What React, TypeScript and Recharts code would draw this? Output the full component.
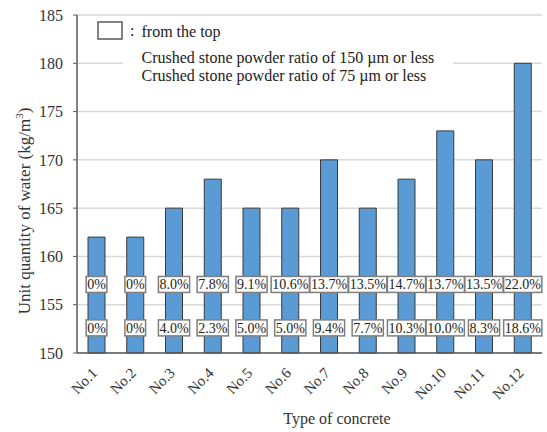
import { Bar, BarChart, CartesianGrid, LabelList, XAxis, YAxis } from "recharts";

const categories = ["No.1", "No.2", "No.3", "No.4", "No.5", "No.6", "No.7", "No.8", "No.9", "No.10", "No.11", "No.12"];
const water = [162, 162, 165, 168, 165, 165, 170, 165, 168, 173, 170, 180];
const ratio150 = ["0%", "0%", "8.0%", "7.8%", "9.1%", "10.6%", "13.7%", "13.5%", "14.7%", "13.7%", "13.5%", "22.0%"];
const ratio75 = ["0%", "0%", "4.0%", "2.3%", "5.0%", "5.0%", "9.4%", "7.7%", "10.3%", "10.0%", "8.3%", "18.6%"];
const yTicks = [150, 155, 160, 165, 170, 175, 180, 185];

const legendLines = [
    "from the top",
    "Crushed stone powder ratio of 150 \u00b5m or less",
    "Crushed stone powder ratio of 75 \u00b5m or less",
];

const data = categories.map((name, i) => ({
    name,
    water: water[i],
    r150: ratio150[i],
    r75: ratio75[i],
}));

const SERIF = "'Liberation Serif', 'Times New Roman', serif";
const Y_MIN = 150;

// rough Times widths at 14px
const textWidth = (s: string) => {
    let w = 0;
    for (const ch of s) {
        if (ch === ".") w += 3.5;
        else if (ch === "%") w += 11.7;
        else w += 7;
    }
    return w;
};

const boxedLabel = (rowValue: number) => (props: any) => {
    const { x, y, width, height, value, index } = props;
    const v = water[index];
    const pxPerUnit = height / (v - Y_MIN);
    const cy = y + height - (rowValue - Y_MIN) * pxPerUnit;
    const cx = x + width / 2;
    const w = textWidth(String(value)) + 2;
    return (
        <g>
            <rect x={cx - w / 2} y={cy - 8} width={w} height={16} fill="#fff" stroke="#7f7f7f" strokeWidth={1.5} />
            <text x={cx} y={cy + 5} textAnchor="middle" fontSize={14} fontFamily={SERIF} fill="#222">
                {value}
            </text>
        </g>
    );
};

const XTick = (props: any) => {
    const { x, y, payload } = props;
    return (
        <text
            x={x + 2}
            y={y + 21}
            transform={`rotate(-45 ${x + 2} ${y + 21})`}
            textAnchor="end"
            fontSize={15}
            fontFamily={SERIF}
            fill="#333"
        >
            {payload.value}
        </text>
    );
};

export default function App() {
    return (
        <div style={{ position: "absolute", left: 0, top: 0 }}>
            <BarChart
                width={547}
                height={432}
                data={data}
                margin={{ top: 15, right: 5, left: 17, bottom: 0 }}
            >
                <CartesianGrid vertical={false} stroke="#d9d9d9" strokeWidth={1.5} />
                <XAxis
                    dataKey="name"
                    height={79}
                    tickLine={false}
                    tickSize={0}
                    tickMargin={0}
                    interval={0}
                    tick={<XTick />}
                    axisLine={{ stroke: "#595959", strokeWidth: 1.5 }}
                />
                <XAxis
                    xAxisId="top"
                    dataKey="name"
                    orientation="top"
                    height={0}
                    tick={false}
                    tickLine={false}
                    axisLine={{ stroke: "#595959", strokeWidth: 1.5 }}
                />
                <YAxis
                    domain={[150, 185]}
                    ticks={yTicks}
                    width={60}
                    tickSize={4}
                    tickMargin={10}
                    tickLine={{ stroke: "#595959" }}
                    axisLine={{ stroke: "#595959", strokeWidth: 1.5 }}
                    tick={{ fontSize: 16, fontFamily: SERIF, fill: "#333" }}
                    interval={0}
                />
                <YAxis
                    yAxisId="right"
                    orientation="right"
                    domain={[150, 185]}
                    width={0}
                    tick={false}
                    tickLine={false}
                    axisLine={{ stroke: "#8a8a8a", strokeWidth: 1.5 }}
                />
                <Bar
                    dataKey="water"
                    barSize={17}
                    fill="#5b9bd5"
                    stroke="#3a3a3a"
                    strokeWidth={1}
                    isAnimationActive={false}
                >
                    <LabelList dataKey="r150" content={boxedLabel(157.1)} />
                    <LabelList dataKey="r75" content={boxedLabel(152.6)} />
                </Bar>

                {/* legend */}
                <rect x={98} y={22} width={24} height={17} fill="#fff" stroke="#595959" strokeWidth={1.5} />
                <text x={130} y={36} fontSize={16} fontFamily={SERIF} fill="#222">:</text>
                <text x={141.5} y={37} fontSize={16} fontFamily={SERIF} fill="#222">{legendLines[0]}</text>
                <rect x={123} y={45} width={330} height={43} fill="#fff" />
                <text x={141.5} y={63} fontSize={16} fontFamily={SERIF} fill="#222">{legendLines[1]}</text>
                <text x={141.5} y={81} fontSize={16} fontFamily={SERIF} fill="#222">{legendLines[2]}</text>

                {/* axis titles */}
                <text
                    x={30}
                    y={211}
                    transform="rotate(-90 30 211)"
                    textAnchor="middle"
                    fontSize={17}
                    fontFamily={SERIF}
                    fill="#333"
                >
                    Unit quantity of water (kg/m
                    <tspan fontSize={11} dy={-7}>3</tspan>
                    <tspan dy={7}>)</tspan>
                </text>
                <text x={337} y={424} textAnchor="middle" fontSize={16} fontFamily={SERIF} fill="#333">
                    Type of concrete
                </text>
            </BarChart>
        </div>
    );
}
